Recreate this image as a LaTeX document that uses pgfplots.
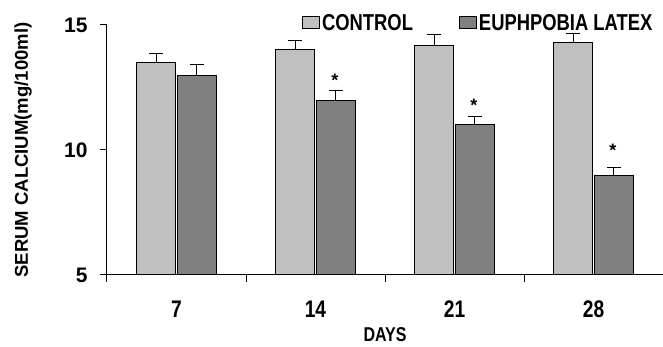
\documentclass[border=0pt]{standalone}
\usepackage{fontspec}
\setmainfont{Liberation Sans}
\newfontfamily\narrowfont[FakeStretch=0.8]{Liberation Sans}
\usepackage{pgfplots}
\pgfplotsset{compat=1.18}
\definecolor{ctrl}{HTML}{C0C0C0}
\definecolor{euph}{HTML}{808080}
\begin{document}
\begin{tikzpicture}
\begin{axis}[
  name=plot,
  scale only axis,
  width=556pt, height=250pt,
  ybar, bar width=0.28,
  xmin=-0.5, xmax=3.5,
  ymin=5, ymax=15,
  ytick={5,10,15},
  xtick={0,1,2,3},
  xticklabels={7,14,21,28},
  axis lines=left,
  axis line style={-, line width=1pt},
  tick align=outside,
  major tick length=7pt,
  tick style={black, line width=1pt},
  x tick style={draw=none},
  extra x ticks={-0.5,0.5,1.5,2.5},
  extra x tick labels={},
  extra x tick style={x tick style={draw=black}, major tick length=7pt},
  /pgf/number format/assume math mode=true,
  yticklabel style={font=\fontsize{21}{21}\selectfont\bfseries, xshift=-9pt},
  xticklabel style={font=\narrowfont\fontsize{24}{24}\selectfont\bfseries, yshift=-15pt},
  ylabel={SERUM CALCIUM(mg/100ml)},
  ylabel style={font=\fontsize{18.5}{18.5}\selectfont\bfseries, at={(axis description cs:-0.151,0.5)}, anchor=center},
  xlabel={DAYS},
  xlabel style={font=\narrowfont\fontsize{20}{20}\selectfont\bfseries, at={(axis description cs:0.5,-0.266)}, anchor=base},
  legend columns=2,
  legend style={draw=none, fill=none, at={(axis description cs:0.345,1.06)}, anchor=north west,
    font=\narrowfont\fontsize{23}{23}\selectfont\bfseries,
    /tikz/every even column/.append style={column sep=44pt}},
  error bars/y dir=plus,
  error bars/y explicit,
  error bars/error bar style={black, line width=1pt},
  error bars/error mark options={rotate=90, mark size=7pt, black, line width=1pt},
  clip=false,
]
\addplot[fill=ctrl, draw=black, line width=1pt,
  legend image code/.code={\draw[fill=ctrl, draw=black, line width=1pt] (0pt,-6pt) rectangle (17pt,6pt);}]
  coordinates {(0,13.5) +- (0,0.37) (1,14.0) +- (0,0.38) (2,14.17) +- (0,0.44) (3,14.31) +- (0,0.36)};
\addlegendentry{CONTROL}
\addplot[fill=euph, draw=black, line width=1pt,
  legend image code/.code={\draw[fill=euph, draw=black, line width=1pt] (0pt,-6pt) rectangle (17pt,6pt);}]
  coordinates {(0,12.96) +- (0,0.45) (1,11.99) +- (0,0.37) (2,11.0) +- (0,0.32) (3,8.97) +- (0,0.31)};
\addlegendentry{EUPHPOBIA LATEX}
\node[font=\fontsize{18}{18}\selectfont\bfseries] at (axis cs:1.14,12.78) {*};
\node[font=\fontsize{18}{18}\selectfont\bfseries] at (axis cs:2.14,11.78) {*};
\node[font=\fontsize{18}{18}\selectfont\bfseries] at (axis cs:3.14,9.98) {*};
\end{axis}
\pgfresetboundingbox
\path ([shift={(-107pt,-72pt)}]plot.south west) rectangle ([shift={(0pt,25pt)}]plot.north east);
\end{tikzpicture}
\end{document}
